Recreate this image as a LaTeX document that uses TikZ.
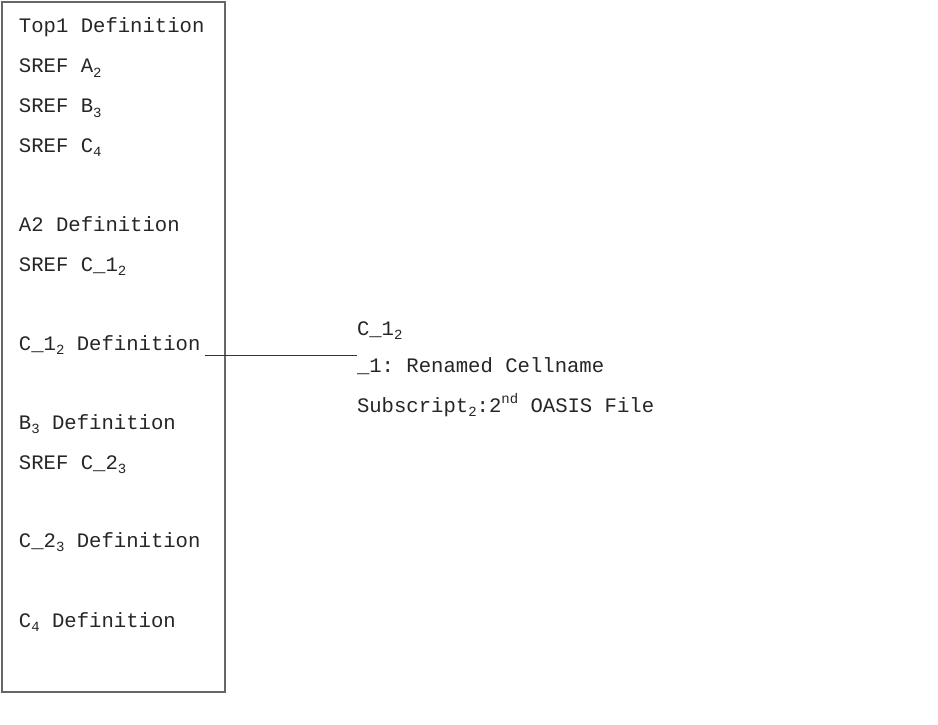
\documentclass[tikz,border=0pt]{standalone}
\usepackage{fontspec}
\setmainfont{Liberation Mono}
\frenchspacing
\newcommand{\sbx}[1]{\raisebox{-0.4ex}{\fontsize{14}{14}\selectfont #1}}
\newcommand{\spx}[1]{\raisebox{0.75ex}{\fontsize{14}{14}\selectfont #1}}
\begin{document}
\begin{tikzpicture}[x=1pt,y=-1pt,
  txt/.style={anchor=base west,inner sep=0pt,outer sep=0pt,font=\fontsize{20.6}{24}\selectfont\frenchspacing,text=black!85},
  frame/.style={draw=black!60,line width=1.2pt,inner sep=0pt,outer sep=0pt},
  link/.style={draw=black!80,line width=1pt}]
\useasboundingbox (0,0) rectangle (938,725);
\fill[white] (0,0) rectangle (938,725);
\node[frame,minimum width=223pt,minimum height=690pt] (box) at (113.5,347) {};
\node[txt] (t1) at (19,33) {Top1 Definition};
\node[txt] (t2) at (19,73) {SREF A\sbx{2}};
\node[txt] (t3) at (19,113) {SREF B\sbx{3}};
\node[txt] (t4) at (19,152) {SREF C\sbx{4}};
\node[txt] (t5) at (19,231) {A2 Definition};
\node[txt] (t6) at (19,271) {SREF C\_1\sbx{2}};
\node[txt] (t7) at (19,350) {C\_1\sbx{2} Definition};
\node[txt] (t8) at (19,429) {B\sbx{3} Definition};
\node[txt] (t9) at (19,469) {SREF C\_2\sbx{3}};
\node[txt] (t10) at (19,547) {C\_2\sbx{3} Definition};
\node[txt] (t11) at (19,627) {C\sbx{4} Definition};
\node[txt] (r1) at (357,335) {C\_1\sbx{2}};
\node[txt] (r2) at (357,372) {\_1: Renamed Cellname};
\node[txt] (r3) at (357,412) {Subscript\sbx{2}:2\spx{nd} OASIS File};
\coordinate (la) at (205,355);
\coordinate (lb) at (357,355);
\draw[link] (la) -- (lb);
\end{tikzpicture}
\end{document}
